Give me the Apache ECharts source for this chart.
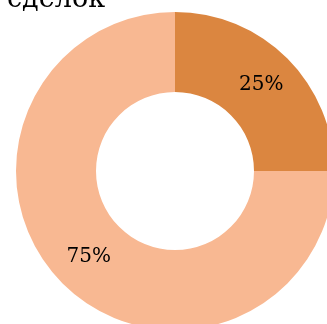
<!DOCTYPE html>
<html>
<head>
<meta charset="utf-8">
<script src="https://cdn.jsdelivr.net/npm/echarts@6/dist/echarts.min.js"></script>
<style>
  html, body { margin: 0; padding: 0; background: #fff; }
  #chart { width: 327px; height: 324px; }
</style>
</head>
<body>
<div id="chart"></div>
<script>
// Share of deals by outcome
const titleText = 'сделок';
const categories = ['A', 'B'];
const shares = [25, 75];
const colors = ['#DB8640', '#F8B892'];

const chart = echarts.init(document.getElementById('chart'), null, { renderer: 'canvas' });

chart.setOption({
  animation: false,
  title: {
    text: titleText,
    left: 2,
    top: -19,
    textStyle: {
      fontFamily: 'DejaVu Serif',
      fontWeight: 'normal',
      fontSize: 27,
      color: '#000'
    }
  },
  series: [{
    type: 'pie',
    center: [175, 171],
    radius: [79, 159],
    startAngle: 90,
    clockwise: true,
    label: {
      show: true,
      position: 'inside',
      formatter: p => p.value + '%',
      fontFamily: 'DejaVu Serif',
      fontSize: 20,
      color: '#000'
    },
    labelLine: { show: false },
    itemStyle: { borderWidth: 0 },
    data: categories.map((c, i) => ({
      name: c,
      value: shares[i],
      itemStyle: { color: colors[i] }
    }))
  }]
});
</script>
</body>
</html>
